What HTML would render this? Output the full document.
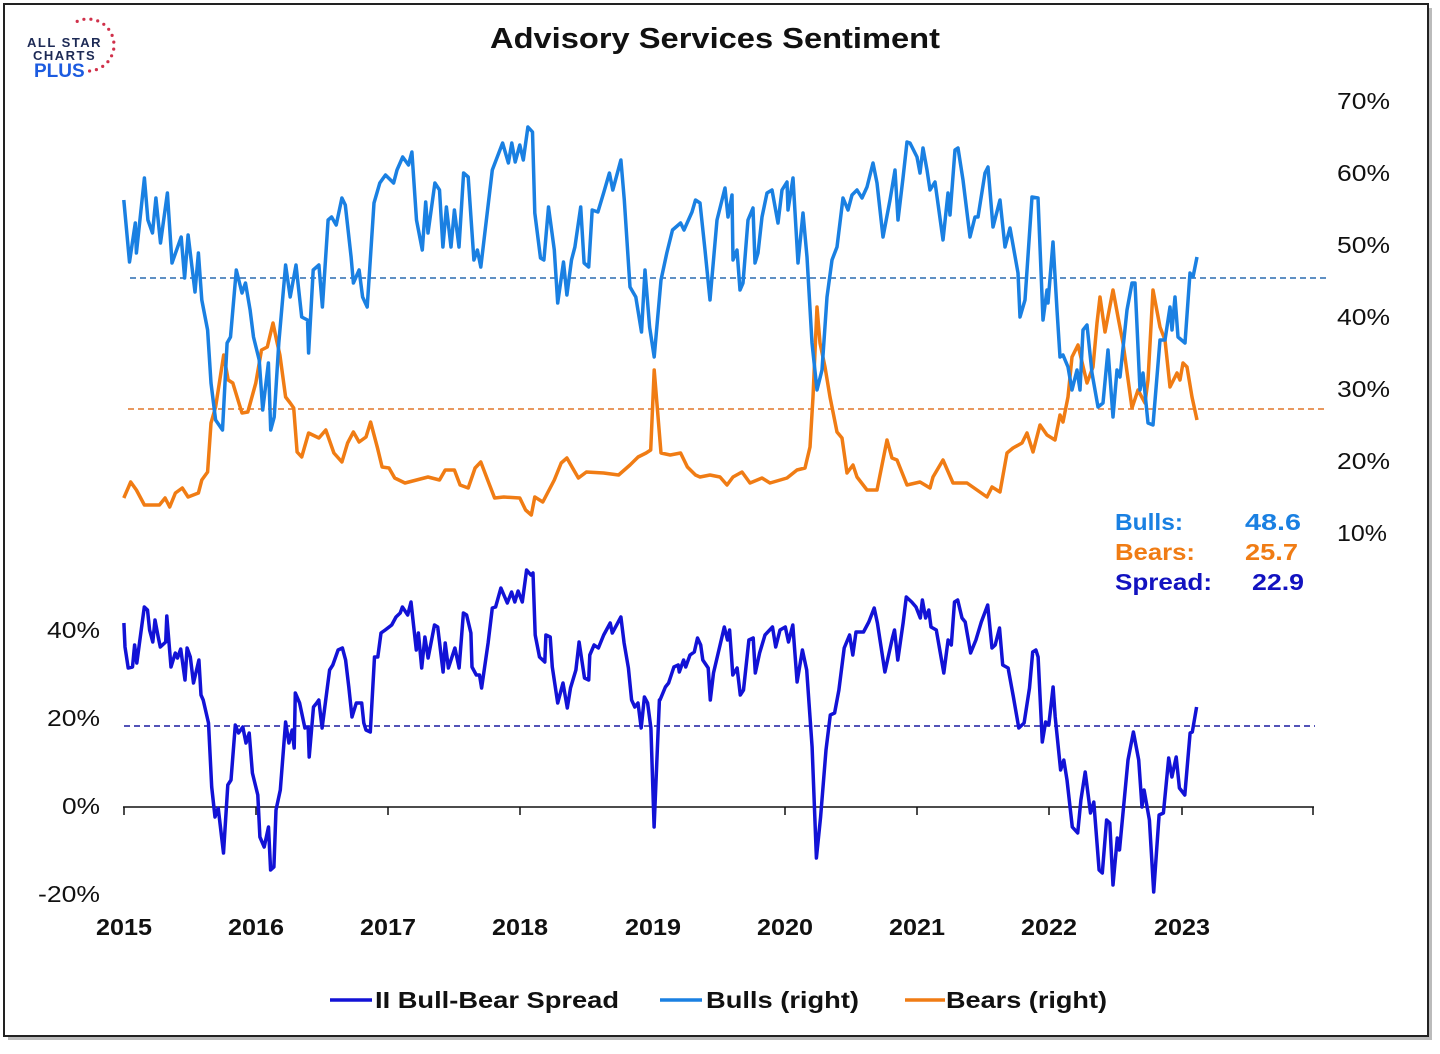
<!DOCTYPE html>
<html><head><meta charset="utf-8"><style>
html,body{margin:0;padding:0;background:#fff;}
body{width:1440px;height:1049px;position:relative;overflow:hidden;font-family:"Liberation Sans",sans-serif;}
</style></head><body>
<svg id="s" width="1440" height="1049" viewBox="0 0 1440 1049" xmlns="http://www.w3.org/2000/svg" font-family="Liberation Sans, sans-serif">
<rect x="8" y="8" width="1424" height="1032" fill="#bbb"/>
<rect x="4" y="4" width="1424" height="1032" fill="#fff" stroke="#222" stroke-width="2"/>
<text x="490" y="48" font-size="29" font-weight="bold" fill="#111" textLength="450" lengthAdjust="spacingAndGlyphs">Advisory Services Sentiment</text>
<g font-size="13" font-weight="bold" fill="#1d2a55" letter-spacing="1.5">
<text x="27" y="47">ALL STAR</text><text x="33" y="60">CHARTS</text></g>
<text x="34" y="77" font-size="19" font-weight="bold" fill="#1c5be0">PLUS</text>
<g fill="#d0304a" id="dots"></g>
<g font-size="23" fill="#111" class="fit">
<text x="1337" y="109" textLength="53">70%</text><text x="1337" y="181" textLength="53">60%</text><text x="1337" y="253" textLength="53">50%</text><text x="1337" y="325" textLength="53">40%</text><text x="1337" y="397" textLength="53">30%</text><text x="1337" y="469" textLength="53">20%</text><text x="1337" y="541" textLength="50">10%</text>
<text x="47" y="638" textLength="53">40%</text><text x="47" y="726" textLength="53">20%</text><text x="62" y="814" textLength="38">0%</text><text x="38" y="902" textLength="62">-20%</text>
</g>
<g font-size="23" fill="#111" font-weight="bold" class="fit">
<text x="96" y="935" textLength="56">2015</text><text x="228" y="935" textLength="56">2016</text><text x="360" y="935" textLength="56">2017</text><text x="492" y="935" textLength="56">2018</text><text x="625" y="935" textLength="56">2019</text><text x="757" y="935" textLength="56">2020</text><text x="889" y="935" textLength="56">2021</text><text x="1021" y="935" textLength="56">2022</text><text x="1154" y="935" textLength="56">2023</text>
</g>
<line x1="130" y1="278" x2="1330" y2="278" stroke="#2a6cb0" stroke-width="1.5" stroke-dasharray="6,4"/>
<line x1="128" y1="409" x2="1328" y2="409" stroke="#e0762a" stroke-width="1.5" stroke-dasharray="6,4"/>
<line x1="124" y1="726" x2="1315" y2="726" stroke="#1a1aa0" stroke-width="1.5" stroke-dasharray="6,4"/>
<line x1="123" y1="807" x2="1314" y2="807" stroke="#111" stroke-width="1.5"/>
<g id="ticks" stroke="#111" stroke-width="1.5"></g>
<path id="bears" fill="none" stroke="#f07c14" stroke-width="3.5" stroke-linejoin="round"/>
<path id="bulls" fill="none" stroke="#1a80e2" stroke-width="3.5" stroke-linejoin="round"/>
<path id="spread" fill="none" stroke="#1212d6" stroke-width="3.5" stroke-linejoin="round"/>
<g font-size="23" font-weight="bold" class="fit">
<text x="1115" y="530" fill="#1a80e2" textLength="68">Bulls:</text><text x="1245" y="530" fill="#1a80e2" textLength="56">48.6</text>
<text x="1115" y="560" fill="#f07c14" textLength="80">Bears:</text><text x="1245" y="560" fill="#f07c14" textLength="53">25.7</text>
<text x="1115" y="590" fill="#1212c0" textLength="97">Spread:</text><text x="1252" y="590" fill="#1212c0" textLength="52">22.9</text>
</g>
<g font-size="23" font-weight="bold" fill="#111" class="fit">
<line x1="330" y1="1000" x2="372" y2="1000" stroke="#1212d6" stroke-width="3.5"/><text x="375" y="1008" textLength="244">II Bull-Bear Spread</text>
<line x1="660" y1="1000" x2="702" y2="1000" stroke="#1a80e2" stroke-width="3.5"/><text x="706" y="1008" textLength="153">Bulls (right)</text>
<line x1="905" y1="1000" x2="945" y2="1000" stroke="#f07c14" stroke-width="3.5"/><text x="946" y="1008" textLength="161">Bears (right)</text>
</g>
</svg>
<script>
document.querySelectorAll('.fit text').forEach(function(e){e.setAttribute('lengthAdjust','spacingAndGlyphs');});
var b1=[122,200,127,262,132,223,133,253,140,178,143,220,147,233,150,198,154,243,160,193,164,263,172,237,175,278,178,235,184,292,187,253,190,300,195,330,198,383,202,420,208,430,212,343,215,337,220,270,225,293,228,283,232,310,235,337,240,360,243,410,248,363,250,430,253,417,257,343,263,265,267,297,272,265,277,317,282,320,283,353,287,270,292,265,295,307,300,220,303,217,307,225,312,198,315,205,320,257,322,283,327,270,330,297,334,307,340,203,345,183,350,175,357,183,360,170,365,157,370,165,373,152,377,220,382,250,385,202,387,233,393,183,397,190,400,247,403,207,407,247,410,210,414,247,418,173,422,177,427,260,430,250,433,267,443,170,452,143,457,163,460,143,463,162,467,145,470,160,474,127,478,132,480,213,485,258,488,260,492,207,497,250,500,303,505,262,508,295,512,260,515,247,520,207,523,263,527,267,530,210,535,212,540,193,545,173,548,190,555,160,558,200,563,287,568,297,573,332,576,270,580,327,584,357,590,280,595,253,600,230,607,223,610,230,617,212,620,200,625,237];
var b2=[700,203,705,250,710,300,717,220,725,188,728,217,732,195,733,260,737,250,740,290,743,283,748,220,753,208,755,263,758,253,762,217,767,193,772,190,778,223,782,190,787,182,788,210,793,178,798,263,803,213,807,257,812,343,817,390,822,370,827,297,832,260,837,247,843,198,848,210,852,195,857,190,862,198,867,187,873,163,877,183,883,237,890,200,895,170,898,220,903,178,907,142,910,143,917,157,920,173,923,148,927,170,930,190,935,182,943,240,948,193,950,215,955,150,958,148,963,180,970,237,975,217,978,217,985,173,988,167,993,227,1000,200,1005,247,1010,228,1018,273,1020,317,1025,300,1032,197,1038,198,1043,320,1047,290,1048,303,1053,242,1057,310,1060,357,1063,355,1068,367,1072,390,1077,370,1080,390,1083,330,1087,325,1092,373,1098,407,1103,403,1108,350,1113,417,1117,370,1120,377,1127,310,1132,283,1135,283,1140,390,1143,373,1148,423,1153,425,1160,340,1165,340,1170,307,1172,330,1175,297,1178,337,1185,343,1190,273,1193,277,1197,257];
var r1=[122,498,128,482,133,490,140,505,153,505,158,498,162,507,167,493,173,488,178,497,187,493,190,480,195,472,198,423,202,407,209,355,213,380,217,383,222,402,225,413,230,412,237,383,242,350,247,347,252,323,255,340,258,355,263,397,267,403,270,408,273,452,277,457,283,433,292,438,298,430,305,453,312,462,317,443,322,432,327,442,333,437,337,422,343,448,347,467,353,468,358,478,367,483,377,480,387,477,397,480,402,470,410,470,415,485,422,488,428,468,433,462,440,483,445,498,453,497,467,498,472,510,477,515,480,497,487,502,497,480,503,463,508,458,513,468,518,478,525,472,540,473,553,475,563,465,570,457,577,453,581,450,584,370,590,453,598,455,607,453,613,467,620,475];
var r2=[700,477,710,475,720,477,727,485,733,477,742,472,750,483,762,478,770,483,787,478,797,470,805,468,810,447,813,397,817,307,820,343,825,367,830,397,837,432,842,438,847,473,853,465,857,477,867,490,877,490,887,440,892,458,897,460,907,485,920,482,930,488,933,477,943,460,953,483,967,483,977,490,987,497,992,487,1000,492,1007,453,1013,448,1022,443,1027,433,1033,452,1040,425,1047,435,1055,440,1060,415,1063,422,1068,397,1072,357,1078,345,1082,362,1087,383,1093,367,1097,323,1100,297,1105,332,1113,290,1118,317,1123,343,1132,408,1138,390,1145,403,1148,380,1153,290,1160,327,1165,340,1170,387,1177,373,1180,380,1183,363,1187,367,1192,397,1197,420];
var s1=[123,623,124,647,127,668,131,667,133,645,135,663,142,607,145,610,147,630,150,642,152,620,155,637,157,647,162,642,163,616,167,667,171,653,173,658,176,649,180,680,182,648,185,657,188,683,193,660,195,695,197,700,202,723,205,787,208,817,211,808,216,853,220,785,223,780,227,725,230,733,234,727,237,743,240,733,243,773,248,795,250,837,254,847,258,827,260,870,263,867,265,810,269,790,274,722,277,743,280,730,282,748,283,693,287,703,292,728,295,727,296,757,300,707,303,703,305,700,308,728,315,670,318,665,323,650,327,648,330,660,333,687,336,717,340,703,345,703,347,723,349,730,353,732,357,657,360,657,363,633,367,630,373,625,377,617,381,613,383,607,388,615,391,602,396,650,398,633,401,668,404,637,407,658,413,625,416,627,421,672,423,643,426,668,432,648,436,668,440,613,443,615,447,633,448,667,452,675,455,675,457,688,463,643,467,608,470,607,475,588,481,603,485,592,488,602,491,591,495,602,499,570,503,575,505,573,507,635,511,657,516,662,517,635,521,637,523,667,528,703,533,683,537,708,540,688,545,670,548,642,553,678,557,680,558,655,562,645,566,648,571,635,577,623,579,633,587,617,590,643,594,668,597,700,600,707,603,703,606,728,609,697,612,703,615,728,618,827,623,700,627,695];
var s2=[660,700,665,687,668,683,673,667,677,665,678,672,682,660,684,667,688,655,692,652,695,638,698,645,700,660,705,668,707,700,710,673,715,650,720,627,723,640,725,630,728,675,732,668,735,695,738,690,743,640,747,638,749,673,753,653,758,635,765,627,768,647,772,630,777,627,780,642,784,625,788,682,793,650,797,670,802,747,806,858,810,817,815,750,819,715,823,713,827,690,832,648,837,635,840,655,843,632,850,632,855,622,860,608,863,623,870,672,877,638,879,630,882,660,887,623,890,597,895,602,899,607,903,618,905,600,908,618,911,610,913,627,918,630,925,673,929,640,932,645,935,602,938,600,942,618,945,622,950,653,955,640,960,622,966,605,970,648,973,645,977,628,980,665,985,668,990,697,995,728,1000,723,1005,688,1008,652,1011,650,1013,657,1017,742,1020,722,1023,725,1027,687,1029,717,1034,770,1037,760,1040,780,1045,827,1050,833,1053,800,1057,772,1062,813,1065,802,1070,870,1073,873,1077,820,1080,823,1083,885,1087,838,1089,850,1097,760,1102,732,1107,760,1110,807,1112,790,1117,820,1121,892,1126,815,1130,813,1135,758,1138,777,1142,757,1145,788,1150,795,1155,733,1157,732,1161,707];
function pts(a,ox,f){var o=[];for(var i=0;i<a.length;i+=2)o.push([ox+(a[i]-ox)*f,a[i+1]]);return o;}
function join(p1,p2){var o=p1.filter(function(p){return p[0]<p2[0][0];});return o.concat(p2);}
function d(p){return p.map(function(q,i){return (i?'L':'M')+q[0].toFixed(1)+' '+q[1];}).join(' ');}
document.getElementById('bulls').setAttribute('d',d(join(pts(b1,110,1.148),pts(b2,700,1))));
document.getElementById('bears').setAttribute('d',d(join(pts(r1,110,1.148),pts(r2,700,1))));
document.getElementById('spread').setAttribute('d',d(join(pts(s1,110,1.071),pts(s2,660,1.071))));
var t=document.getElementById('ticks'),ns='http://www.w3.org/2000/svg';
[124,256,388,520,653,785,917,1049,1182,1313].forEach(function(x){var l=document.createElementNS(ns,'line');l.setAttribute('x1',x);l.setAttribute('x2',x);l.setAttribute('y1',807);l.setAttribute('y2',815);t.appendChild(l);});
var g=document.getElementById('dots');
for(var i=0;i<14;i++){var a=-2.0+i*0.27;var c=document.createElementNS(ns,'circle');c.setAttribute('cx',(88+26*Math.cos(a)).toFixed(1));c.setAttribute('cy',(45+26*Math.sin(a)).toFixed(1));c.setAttribute('r',1.6);g.appendChild(c);}
</script>
</body></html>
